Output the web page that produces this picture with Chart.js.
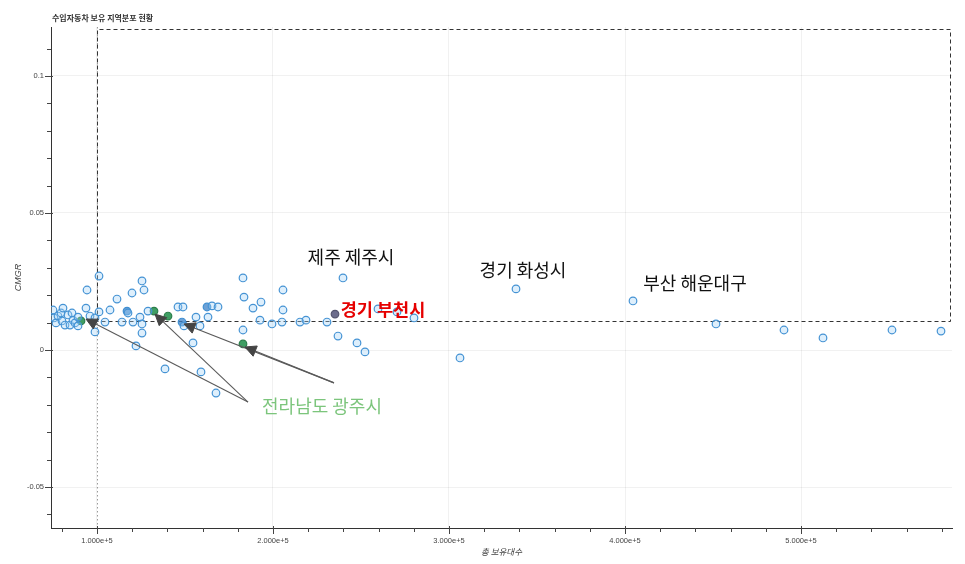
<!DOCTYPE html>
<html>
<head>
<meta charset="utf-8">
<script src="https://cdn.jsdelivr.net/npm/chart.js@4.4.1/dist/chart.umd.min.js"></script>
<style>
html,body{margin:0;padding:0;background:#fff;}
canvas{display:block;}
</style>
</head>
<body>
<canvas id="c" width="965" height="564"></canvas>
<script>
// ---- data (x = 총 보유대수, y = CMGR) ----
const regionX = [75000,75570,76700,77840,79550,80110,80680,81820,83520,84660,85800,86360,87500,89200,89200,
  94320,93750,96020,98860,98860,101140,101140,104550,107390,111360,114200,117610,119890,120450,122160,
  124430,125570,126700,125570,125570,128980,138640,146020,148860,149430,156250,154550,158520,159090,
  165340,168750,163070,167610,182950,183520,182950,188640,193180,192610,199430,205680,205680,205110,
  215340,218750,230680,239770,236930,247730,252270,259660,270450,280110,306250,338070,404545,451700,
  490340,512500,551700,579550];
const regionY = [0.0146,0.0117,0.0099,0.0124,0.0135,0.0106,0.0153,0.0091,0.0128,0.0091,0.0135,0.0109,0.0099,0.0120,0.0088,
  0.0219,0.0153,0.0124,0.0117,0.0066,0.0270,0.0139,0.0102,0.0146,0.0186,0.0102,0.0135,0.0208,0.0102,0.0015,
  0.0120,0.0252,0.0219,0.0095,0.0062,0.0142,-0.0069,0.0157,0.0157,0.0088,0.0120,0.0026,0.0088,-0.0080,
  0.0161,0.0157,0.0120,-0.0157,0.0263,0.0193,0.0073,0.0153,0.0175,0.0109,0.0095,0.0219,0.0146,0.0102,
  0.0102,0.0109,0.0102,0.0263,0.0051,0.0026,-0.0007,0.0150,0.0139,0.0117,-0.0029,0.0223,0.0179,0.0095,
  0.0073,0.0044,0.0073,0.0069];
const overlapX = [117050,148300,162500];
const overlapY = [0.0142,0.0102,0.0157];
const highlightX = [90910,132390,140340,182950];   // 전라남도 광주시 계열
const highlightY = [0.0106,0.0142,0.0124,0.0022];
const focusX = [235230];                            // 경기 부천시
const focusY = [0.0131];

const meanX = 100000;
const meanY = 0.0106;
const boxMaxX = 584660;
const boxMaxY = 0.11715;

const xTickValues = [100000,200000,300000,400000,500000];
const xTickLabels = ["1.000e+5","2.000e+5","3.000e+5","4.000e+5","5.000e+5"];
const yTickValues = [-0.05,0,0.05,0.1];
const yTickLabels = ["-0.05","0","0.05","0.1"];

const labelTexts = ["제주 제주시","경기 화성시","부산 해운대구","경기 부천시","전라남도 광주시"];
const labelX = [244320,342045,439770,262500,227840];
const labelY = [0.0339,0.0292,0.0245,0.0150,-0.0204];

const arrowFromX = [185800,185800,234660,234660];
const arrowFromY = [-0.0190,-0.0190,-0.0120,-0.0120];
const arrowToX = [93750,132950,149430,184090];
const arrowToY = [0.0113,0.0131,0.0095,0.0011];

const titleText = "수입자동차 보유 지역분포 현황";
const xTitle = "총 보유대수";
const yTitle = "CMGR";

// ---- helpers ----
const pts = (xs, ys) => xs.map((x, i) => ({x, y: ys[i]}));
const xMinor = []; for (let i = 4; i <= 29; i++) xMinor.push(i * 20000);
const yMinor = []; for (let i = -6; i <= 11; i++) yMinor.push(i / 100);
const near = (a, b) => Math.abs(a - b) < 1e-9;
const isMajorX = v => xTickValues.some(t => near(t, v));
const isMajorY = v => yTickValues.some(t => near(t, v));

const overlay = {
  id: 'overlay',
  beforeDraw(chart) {
    const c = chart.ctx;
    c.save(); c.fillStyle = '#fff'; c.fillRect(0, 0, chart.width, chart.height); c.restore();
  },
  beforeDatasetsDraw(chart) {
    const c = chart.ctx, xs = chart.scales.x, ys = chart.scales.y, a = chart.chartArea;
    c.save();
    const mx = Math.round(xs.getPixelForValue(meanX)) + 0.5;
    c.strokeStyle = '#9a9a9a'; c.lineWidth = 1; c.setLineDash([1.5, 2.5]);
    c.beginPath(); c.moveTo(mx, a.top); c.lineTo(mx, a.bottom); c.stroke();
    const x0 = mx, x1 = Math.round(xs.getPixelForValue(boxMaxX)) + 0.5;
    const y0 = Math.round(ys.getPixelForValue(meanY)) + 0.5, y1 = Math.round(ys.getPixelForValue(boxMaxY)) + 0.5;
    c.strokeStyle = '#333'; c.setLineDash([4, 3]);
    c.beginPath(); c.moveTo(x0, y0); c.lineTo(x0, y1); c.lineTo(x1, y1); c.lineTo(x1, y0); c.lineTo(x0, y0); c.stroke();
    c.restore();
  },
  afterDatasetsDraw(chart) {
    const c = chart.ctx, xs = chart.scales.x, ys = chart.scales.y;
    c.save();
    for (let i = 0; i < arrowFromX.length; i++) {
      const sx = xs.getPixelForValue(arrowFromX[i]), sy = ys.getPixelForValue(arrowFromY[i]);
      const ex = xs.getPixelForValue(arrowToX[i]), ey = ys.getPixelForValue(arrowToY[i]);
      const dx = ex - sx, dy = ey - sy, L = Math.hypot(dx, dy), ux = dx / L, uy = dy / L;
      const hl = 11, hw = 5.5;
      const bx = ex - ux * hl, by = ey - uy * hl;
      c.strokeStyle = '#5a5a5a'; c.lineWidth = 1.1; c.setLineDash([]);
      c.beginPath(); c.moveTo(sx, sy); c.lineTo(bx, by); c.stroke();
      c.fillStyle = '#444'; c.strokeStyle = '#444'; c.lineWidth = 1;
      c.beginPath(); c.moveTo(ex, ey); c.lineTo(bx - uy * hw, by + ux * hw); c.lineTo(bx + uy * hw, by - ux * hw); c.closePath();
      c.fill(); c.stroke();
    }
    const styles = [
      {font: '18px "Noto Sans CJK KR"', color: '#111'},
      {font: '18px "Noto Sans CJK KR"', color: '#111'},
      {font: '18px "Noto Sans CJK KR"', color: '#111'},
      {font: 'bold 17.5px "Noto Sans CJK KR"', color: '#e60000'},
      {font: '18px "Noto Sans CJK KR"', color: '#7cc57c'}
    ];
    c.textAlign = 'center'; c.textBaseline = 'middle';
    labelTexts.forEach((t, i) => {
      c.font = styles[i].font; c.fillStyle = styles[i].color;
      c.fillText(t, xs.getPixelForValue(labelX[i]), ys.getPixelForValue(labelY[i]));
    });
    c.restore();
  },
  afterDraw(chart) {
    const c = chart.ctx, xs = chart.scales.x, ys = chart.scales.y, a = chart.chartArea;
    c.save();
    c.strokeStyle = '#444'; c.lineWidth = 1;
    c.beginPath();
    xs.ticks.forEach(t => {
      const p = Math.round(xs.getPixelForValue(t.value)) + 0.5;
      const major = isMajorX(t.value);
      c.moveTo(p, a.bottom - (major ? 2 : 0)); c.lineTo(p, a.bottom + (major ? 6 : 4));
    });
    ys.ticks.forEach(t => {
      const p = Math.round(ys.getPixelForValue(t.value)) + 0.5;
      const major = isMajorY(t.value);
      c.moveTo(a.left + (major ? 2 : 0), p); c.lineTo(a.left - (major ? 6 : 4), p);
    });
    c.stroke();
    c.font = 'bold 8px "Noto Sans CJK KR"'; c.fillStyle = '#333';
    c.textAlign = 'left'; c.textBaseline = 'middle';
    c.fillText(titleText, 52, 18);
    c.restore();
  }
};

new Chart(document.getElementById('c'), {
  type: 'scatter',
  data: {
    datasets: [
      {data: pts(regionX, regionY), pointRadius: 3.8, borderWidth: 1.2, borderColor: '#4593d4', backgroundColor: 'rgba(160,210,245,0.35)'},
      {data: pts(overlapX, overlapY), pointRadius: 3.8, borderWidth: 1.2, borderColor: '#3f8fd2', backgroundColor: 'rgba(60,130,200,0.75)'},
      {data: pts(highlightX, highlightY), pointRadius: 3.8, borderWidth: 1.2, borderColor: '#2b7d4a', backgroundColor: '#3f9e63'},
      {data: pts(focusX, focusY), pointRadius: 3.8, borderWidth: 1.2, borderColor: '#55556e', backgroundColor: '#6d6d8c'}
    ]
  },
  options: {
    responsive: false, animation: false, devicePixelRatio: 1,
    layout: {padding: {top: 27, right: 13, left: 0, bottom: 0}},
    plugins: {legend: {display: false}, tooltip: {enabled: false}, title: {display: false}},
    scales: {
      x: {
        type: 'linear', min: 73864, max: 585795,
        afterFit(s) { s.height = 36; },
        afterBuildTicks(s) { s.ticks = xMinor.map(v => ({value: v})); },
        ticks: {
          autoSkip: false, maxRotation: 0, minRotation: 0, padding: 8, color: '#444',
          font: {size: 7.5, family: '"Liberation Sans", Arial, sans-serif'},
          callback(v) { const i = xTickValues.findIndex(t => near(t, v)); return i >= 0 ? xTickLabels[i] : ''; }
        },
        grid: {drawTicks: false, color: ctx => (ctx.tick && isMajorX(ctx.tick.value)) ? 'rgba(0,0,0,0.055)' : 'rgba(0,0,0,0)'},
        border: {display: true, color: '#333', width: 1},
        title: {display: true, text: xTitle, color: '#444', padding: {top: 0, bottom: 7.6},
          font: {size: 8.5, style: 'italic', family: '"Noto Sans CJK KR"'}}
      },
      y: {
        type: 'linear', min: -0.06496, max: 0.11788,
        afterFit(s) { s.width = 51; },
        afterBuildTicks(s) { s.ticks = yMinor.map(v => ({value: v})); },
        ticks: {
          autoSkip: false, padding: 7, color: '#444',
          font: {size: 7.5, family: '"Liberation Sans", Arial, sans-serif'},
          callback(v) { const i = yTickValues.findIndex(t => near(t, v)); return i >= 0 ? yTickLabels[i] : ''; }
        },
        grid: {drawTicks: false, color: ctx => (ctx.tick && isMajorY(ctx.tick.value)) ? 'rgba(0,0,0,0.055)' : 'rgba(0,0,0,0)'},
        border: {display: true, color: '#333', width: 1},
        title: {display: true, text: yTitle, color: '#444', padding: {top: 12.6, bottom: 0},
          font: {size: 9, style: 'italic', family: '"Liberation Sans", Arial, sans-serif'}}
      }
    }
  },
  plugins: [overlay]
});
</script>
</body>
</html>
